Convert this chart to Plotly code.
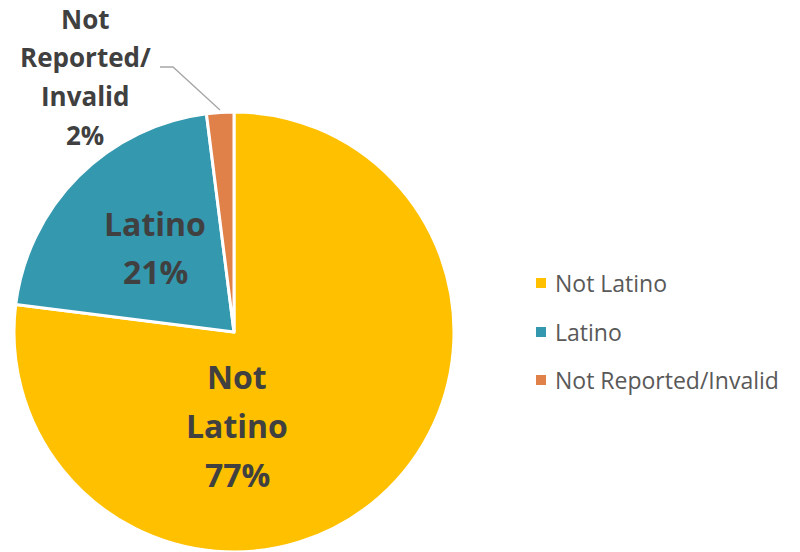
import plotly.graph_objects as go

# ---- data ----
labels = ["Not Latino", "Latino", "Not Reported/Invalid"]
values = [77, 21, 2]
colors = ["#FFC000", "#3498AF", "#E0814A"]
label_lines = [["Not", "Latino"], ["Latino"], ["Not", "Reported/", "Invalid"]]

W, H = 800, 552
CX, CY, R = 234, 332, 220  # pie centre/radius in px


def px(x):
    return x / W


def py(y):
    return 1 - y / H


fig = go.Figure()
fig.add_trace(go.Pie(
    labels=labels, values=values, sort=False, direction="clockwise", rotation=0,
    marker=dict(colors=colors, line=dict(color="white", width=3)),
    textinfo="none", hoverinfo="label+percent", showlegend=False,
    domain=dict(x=[px(CX - R), px(CX + R)], y=[py(CY + R), py(CY - R)]),
))

total = sum(values)
pct = [f"{round(v / total * 100)}%" for v in values]

annotations = []
shapes = []
TXT = "#404040"
FONT = "Open Sans"

# label placements (centre x, first-line centre y, line spacing, font size)
places = [(237, 376, 49, 32), (155, 223, 48, 32), (85, 19, 38.5, 26)]
for i, (x0, y0, dy, fs) in enumerate(places):
    lines = label_lines[i] + [pct[i]]
    for j, t in enumerate(lines):
        annotations.append(dict(
            x=px(x0), y=py(y0 + j * dy), xref="paper", yref="paper",
            text=f"<b>{t}</b>", showarrow=False, xanchor="center", yanchor="middle",
            font=dict(family=FONT, size=fs, color=TXT),
        ))

# leader line for the small slice
shapes.append(dict(
    type="path", xref="paper", yref="paper",
    path=f"M {px(160)} {py(67)} L {px(173)} {py(67)} L {px(220)} {py(110)}",
    line=dict(color="#A6A6A6", width=1.3),
))

# legend
leg_y = [283, 332, 380]
for i, lab in enumerate(labels):
    y = leg_y[i]
    shapes.append(dict(
        type="rect", xref="paper", yref="paper",
        x0=px(536), x1=px(546), y0=py(y + 5), y1=py(y - 5),
        fillcolor=colors[i], line=dict(width=0),
    ))
    annotations.append(dict(
        x=px(553), y=py(y), xref="paper", yref="paper", text=lab,
        showarrow=False, xanchor="left", yanchor="middle",
        font=dict(family=FONT, size=23, color="#595959"),
    ))

fig.update_layout(
    width=W, height=H, margin=dict(l=0, r=0, t=0, b=0),
    paper_bgcolor="white", plot_bgcolor="white",
    annotations=annotations, shapes=shapes,
)
fig.write_html("out.html")
